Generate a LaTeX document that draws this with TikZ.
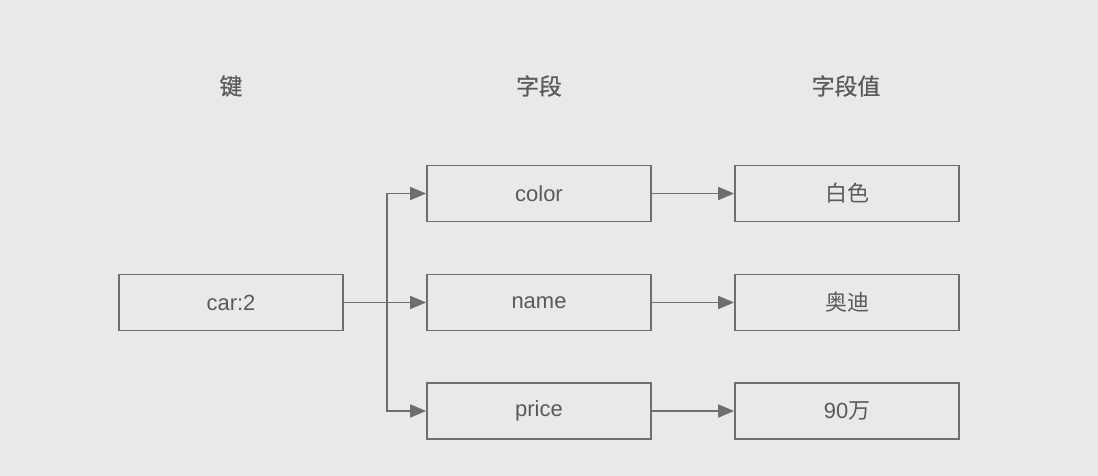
\documentclass[tikz,border=0pt]{standalone}
\usepackage{fontspec}
\setmainfont{Liberation Sans}
\newfontfamily\cjk{Noto Sans CJK SC}
\newfontfamily\cjkb{Noto Sans CJK SC}[FakeBold=0.8]
\usetikzlibrary{arrows.meta}
\definecolor{bg}{HTML}{E9E9E8}
\definecolor{ln}{HTML}{6E6E6E}
\definecolor{tx}{HTML}{5A5A5A}
\tikzset{
  box/.style={draw=ln, line width=1pt, minimum width=4.48cm, minimum height=1.12cm, inner sep=0pt, text=tx, font=\fontsize{12.5}{14}\selectfont},
  hdr/.style={text=tx, font=\fontsize{13}{15}\selectfont\cjkb},
  conn/.style={draw=ln, line width=1pt, -{Triangle[length=0.32cm,width=0.26cm]}},
  plain/.style={draw=ln, line width=1pt}
}
\begin{document}
\begin{tikzpicture}[x=0.02cm,y=-0.02cm]
\fill[bg] (0,0) rectangle (1098,476);
\useasboundingbox (0,0) rectangle (1098,476);
\node[hdr] (h1) at (231,86) {键};
\node[hdr] (h2) at (539,86) {字段};
\node[hdr] (h3) at (846,86) {字段值};
\node[box] (car) at (231,302.5) {car:2};
\node[box] (color) at (539,193.5) {color};
\node[box] (name) at (539,302.5) {name};
\node[box] (price) at (539,411) {price};
\node[box] (v1) at (847,193.5) {\cjk 白色};
\node[box] (v2) at (847,302.5) {\cjk 奥迪};
\node[box] (v3) at (847,411) {90{\cjk 万}};
\coordinate (j) at (387,302.5);
\draw[plain] (car.east) -- (j);
\draw[conn] (j) -- (name.west);
\draw[conn] (j) |- (color.west);
\draw[conn] (j) |- (price.west);
\draw[conn] (color) -- (v1);
\draw[conn] (name) -- (v2);
\draw[conn] (price) -- (v3);
\end{tikzpicture}
\end{document}
